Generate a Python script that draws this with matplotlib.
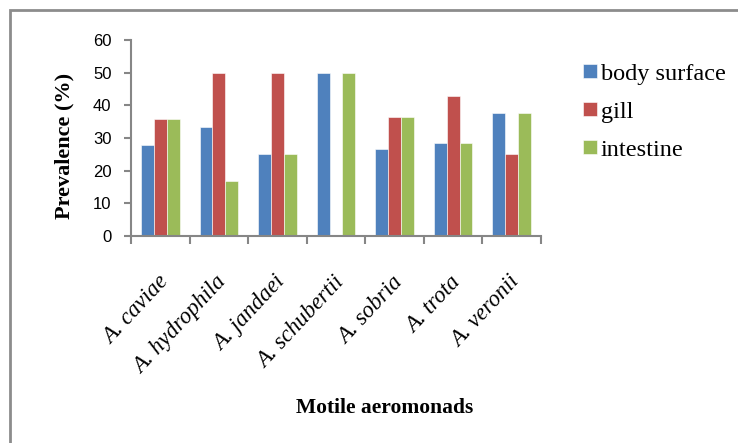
import numpy as np
import matplotlib.pyplot as plt
import matplotlib.transforms as mtransforms
from matplotlib.patches import Rectangle

species = ["A. caviae", "A. hydrophila", "A. jandaei", "A. schubertii",
           "A. sobria", "A. trota", "A. veronii"]
body_surface = [27.8, 33.3, 25.0, 50.0, 26.5, 28.6, 37.5]
gill = [35.7, 50.0, 50.0, 0.0, 36.4, 42.9, 25.0]
intestine = [35.7, 16.7, 25.0, 50.0, 36.4, 28.6, 37.5]

series = [("body surface", body_surface, "#4F81BD"),
          ("gill", gill, "#C0504D"),
          ("intestine", intestine, "#9BBB59")]

fig = plt.figure(figsize=(7.38, 4.43), dpi=100)
ax = fig.add_axes([0.1775, 0.4673, 0.5556, 0.4424])

# chart frame
fig.patches.append(Rectangle((10 / 738, -0.05), 1.1, 1 - 10 / 443 + 0.05,
                             transform=fig.transFigure, fill=False,
                             edgecolor="#8c8c8c", linewidth=2))

x = np.arange(len(species))
w = 0.22
for i, (name, vals, col) in enumerate(series):
    ax.bar(x + (i - 1) * w, vals, w, color=col, label=name,
           edgecolor="white", linewidth=0.4)

ax.set_xlim(-0.5, len(species) - 0.5)
ax.set_ylim(0, 60)
ax.set_yticks(range(0, 61, 10))

for s in ["top", "right"]:
    ax.spines[s].set_visible(False)
for s in ["left", "bottom"]:
    ax.spines[s].set_color("#868686")
    ax.spines[s].set_linewidth(1.5)

ax.tick_params(axis="y", colors="#868686", length=5, width=1.5,
               labelcolor="black", labelsize=12, pad=9)
for t in ax.get_yticklabels():
    t.set_family("Liberation Sans")

ax.set_xticks(x)
ax.set_xticklabels(species, rotation=47, ha="right", rotation_mode="anchor",
                   family="Liberation Serif", style="italic", fontsize=16.5)
ax.tick_params(axis="x", length=0, pad=26)
shift = mtransforms.ScaledTranslation(-3 / 100, 0, fig.dpi_scale_trans)
for t in ax.get_xticklabels():
    t.set_transform(t.get_transform() + shift)
ax.set_xticks(np.arange(-0.5, len(species)), minor=True)
ax.tick_params(axis="x", which="minor", colors="#868686", length=6, width=1.5)

ax.set_ylabel("Prevalence (%)", family="Liberation Serif", fontweight="bold",
              fontsize=16)
ax.yaxis.set_label_coords(-0.137, 0.46)
fig.text(0.521, 0.078, "Motile aeromonads", family="Liberation Serif",
         fontweight="bold", fontsize=15.5, ha="center", va="center")

leg = fig.legend(loc="upper left", bbox_to_anchor=(0.761, 0.906),
                 frameon=False, prop={"family": "Liberation Serif", "size": 17.5},
                 handlelength=0.55, handleheight=0.55, handletextpad=0.15,
                 labelspacing=0.7)

fig.savefig("out.png", dpi=100)
